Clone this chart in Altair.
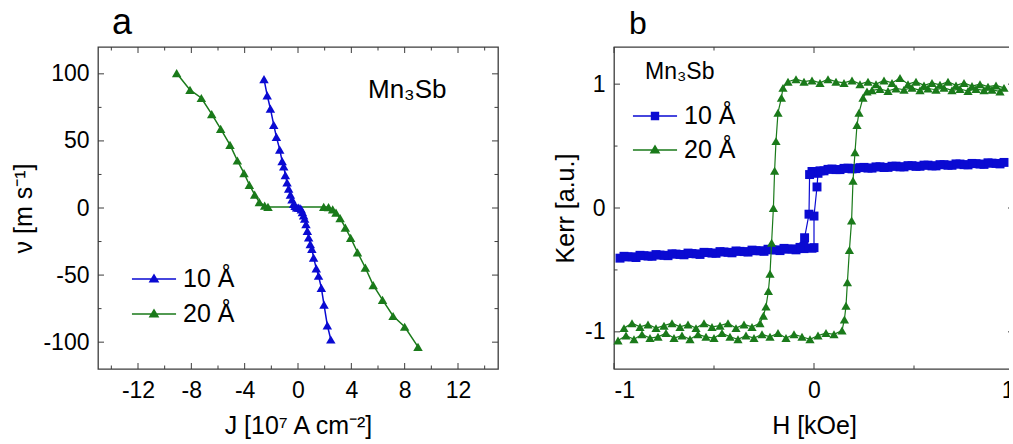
import altair as alt
import pandas as pd

FONT = "Liberation Sans"
BLUE = "#0A0AD2"
GREEN = "#1A7A1A"
FRAME = "#3c3c3c"

series_labels = ["10 Å", "20 Å"]
sample_label = "Mn₃Sb"
panel_labels = ["a", "b"]

# ---------------- panel a : velocity vs current density ----------------
J_10 = [-2.55, -2.31, -2.07, -1.82, -1.62, -1.37, -1.19, -1.07, -0.95, -0.82, -0.70, -0.57,
        -0.45, -0.33, -0.22, -0.10, 0.02, 0.15, 0.25, 0.33, 0.42, 0.50, 0.60, 0.70, 0.80,
        0.92, 1.04, 1.17, 1.37, 1.54, 1.75, 1.95, 2.20, 2.46]
v_10 = [96, 84, 74, 62, 53, 43.5, 35, 31, 24.5, 19, 14.5, 10, 6.5, 3, 1.5, 0.5, 0.2, 0,
        -1, -3, -5.5, -8, -12, -17, -22, -27, -30.5, -37, -45, -50.5, -59.5, -72, -87.5, -98]
J_20 = [-9.1, -8.1, -7.25, -6.47, -5.8, -5.1, -4.55, -4.05, -3.65, -3.25, -2.9, -2.5, -2.25,
        1.93, 2.29, 2.6, 2.85, 3.16, 3.55, 3.95, 4.46, 5.05, 5.64, 6.34, 7.13, 8.0, 9.0]
v_20 = [100.5, 88, 82, 70, 59, 47, 35.4, 26, 17.3, 10, 4.3, 1.8, 0.8,
        0.8, 0.7, -1, -3.5, -7.5, -14.6, -22.3, -33, -44.5, -57.5, -68.5, -80.5, -88.5, -103.5]
Ja_major = [-12, -8, -4, 0, 4, 8, 12]
Ja_minor = [-14, -10, -6, -2, 2, 6, 10, 14]
va_major = [-100, -50, 0, 50, 100]
va_minor = [-75, -25, 25, 75]

# ---------------- panel b : Kerr hysteresis loops ----------------
H10_up = [-0.97, -0.93, -0.89, -0.85, -0.81, -0.77, -0.73, -0.69, -0.65, -0.61, -0.57, -0.53,
          -0.49, -0.45, -0.41, -0.37, -0.33, -0.29, -0.25, -0.21, -0.17, -0.13, -0.09, -0.05,
          -0.01, 0.0, 0.0, 0.015, 0.02,
          0.05, 0.09, 0.13, 0.17, 0.21, 0.25, 0.29, 0.33, 0.37, 0.41, 0.45, 0.49, 0.53, 0.57,
          0.61, 0.65, 0.69, 0.73, 0.77, 0.81, 0.85, 0.89, 0.93]
K10_up = [-0.405, -0.395, -0.40, -0.385, -0.39, -0.38, -0.385, -0.372, -0.378, -0.368, -0.375,
          -0.36, -0.366, -0.355, -0.362, -0.35, -0.356, -0.345, -0.35, -0.338, -0.344, -0.333,
          -0.338, -0.328,
          -0.325, -0.32, -0.065, 0.17, 0.28,
          0.30, 0.315, 0.31, 0.322, 0.318, 0.328, 0.322, 0.333, 0.328, 0.338, 0.332, 0.342,
          0.337, 0.346, 0.34, 0.35, 0.345, 0.355, 0.348, 0.358, 0.352, 0.362, 0.356]
H10_down = [0.95, 0.91, 0.87, 0.83, 0.79, 0.75, 0.71, 0.67, 0.63, 0.59, 0.55, 0.51, 0.47, 0.43,
            0.39, 0.35, 0.31, 0.27, 0.23, 0.19, 0.15, 0.11, 0.07, 0.03,
            -0.01, -0.022, -0.025, -0.047, -0.05,
            -0.07, -0.11, -0.15, -0.19, -0.23, -0.27, -0.31, -0.35, -0.39, -0.43, -0.47, -0.51,
            -0.55, -0.59, -0.63, -0.67, -0.71, -0.75, -0.79, -0.83, -0.87, -0.91, -0.95]
K10_down = [0.368, 0.36, 0.365, 0.355, 0.36, 0.35, 0.356, 0.345, 0.35, 0.34, 0.346, 0.336,
            0.342, 0.332, 0.337, 0.327, 0.332, 0.322, 0.326, 0.316, 0.32, 0.31, 0.312, 0.30,
            0.295, 0.27, -0.05, -0.24, -0.31,
            -0.318, -0.33, -0.326, -0.338, -0.333, -0.345, -0.34, -0.352, -0.347, -0.358,
            -0.352, -0.364, -0.358, -0.37, -0.364, -0.375, -0.37, -0.382, -0.376, -0.388,
            -0.382, -0.394, -0.39]
H20_up = [-0.98, -0.94, -0.90, -0.86, -0.82, -0.78, -0.74, -0.70, -0.66, -0.62, -0.58, -0.54,
          -0.50, -0.46, -0.42, -0.38, -0.34, -0.30, -0.26, -0.22, -0.18, -0.14, -0.10, -0.06,
          -0.02, 0.02, 0.06, 0.10, 0.14,
          0.152, 0.16, 0.167, 0.177, 0.188, 0.195, 0.205, 0.215, 0.225, 0.245, 0.265,
          0.29, 0.33, 0.37, 0.41, 0.45, 0.49, 0.53, 0.57, 0.61, 0.65, 0.69, 0.73, 0.77, 0.81,
          0.85, 0.89, 0.93]
K20_up = [-1.07, -1.03, -1.06, -1.02, -1.05, -1.04, -1.01, -1.05, -1.03, -1.06, -1.02, -1.04,
          -1.05, -1.01, -1.04, -1.06, -1.03, -1.05, -1.02, -1.04, -1.01, -1.05, -1.02, -1.04,
          -1.06, -1.03, -1.01, -1.02, -0.99,
          -0.90, -0.79, -0.60, -0.34, -0.10, 0.22, 0.45, 0.67, 0.77, 0.89, 0.94,
          0.95, 0.96, 0.945, 0.965, 0.955, 0.97, 0.95, 0.965, 0.955, 0.97, 0.95, 0.96, 0.945,
          0.96, 0.95, 0.955, 0.94]
H20_down = [0.95, 0.91, 0.87, 0.83, 0.79, 0.75, 0.71, 0.67, 0.63, 0.59, 0.55, 0.51, 0.47, 0.43,
            0.39, 0.35, 0.31, 0.27, 0.23, 0.19, 0.15, 0.11, 0.07, 0.03, -0.01, -0.05, -0.09,
            -0.13,
            -0.155, -0.163, -0.18, -0.19, -0.197, -0.203, -0.212, -0.22, -0.228, -0.24, -0.253,
            -0.27, -0.31, -0.35, -0.39, -0.43, -0.47, -0.51, -0.55, -0.59, -0.63, -0.67, -0.71,
            -0.75, -0.79, -0.83, -0.87, -0.91, -0.95]
K20_down = [0.97, 0.99, 0.98, 1.0, 0.985, 1.01, 0.99, 1.02, 0.995, 1.01, 0.99, 1.02, 1.0, 1.05,
            1.01, 1.03, 1.0, 1.02, 1.0, 1.03, 1.01, 1.02, 1.04, 1.01, 1.03, 1.02, 1.04, 1.02,
            0.97, 0.89, 0.77, 0.54, 0.30, 0.0, -0.28, -0.53, -0.67, -0.795, -0.87,
            -0.93, -0.96, -0.94, -0.97, -0.93, -0.95, -0.96, -0.93, -0.97, -0.94, -0.96, -0.93,
            -0.95, -0.97, -0.94, -0.96, -0.93, -0.97]
Hb_major = [-1, 0, 1]
Hb_minor = [-0.5, 0.5]
Kb_major = [-1, 0, 1]
Kb_minor = [-0.5, 0.5]

PW, PH = 400, 322
LABEL_EXPR = "toString(datum.value)"

# legend glyphs: line segment + marker (custom symbol paths, unit = 15 px)
TRI_GLYPH = "M-1.47,0H1.47M-0.27,0.18L0,-0.27L0.27,0.18Z"
SQR_GLYPH = "M-1.47,0H1.47M-0.23,-0.23H0.23V0.23H-0.23Z"


def frame_ticks(xs, ys, xax, yax, xmaj, xmin, ymaj, ymin, big=6, small=3.5):
    layers = []
    for vals, L in ((xmaj, big), (xmin, small)):
        base = alt.Chart(pd.DataFrame({"t": vals})).mark_rule(color=FRAME, strokeWidth=1)
        xe = alt.X("t:Q", scale=xs, axis=xax)
        layers.append(base.encode(x=xe, y=alt.value(PH), y2=alt.value(PH - L)))
        layers.append(base.encode(x=xe, y=alt.value(0), y2=alt.value(L)))
    for vals, L in ((ymaj, big), (ymin, small)):
        base = alt.Chart(pd.DataFrame({"t": vals})).mark_rule(color=FRAME, strokeWidth=1)
        ye = alt.Y("t:Q", scale=ys, axis=yax)
        layers.append(base.encode(y=ye, x=alt.value(0), x2=alt.value(L)))
        layers.append(base.encode(y=ye, x=alt.value(PW), x2=alt.value(PW - L)))
    return layers


def curve(df, xf, yf, xs, ys, xax, yax, color, shape, size, lw):
    xe = alt.X(f"{xf}:Q", scale=xs, axis=xax)
    ye = alt.Y(f"{yf}:Q", scale=ys, axis=yax)
    line = alt.Chart(df).mark_line(color=color, strokeWidth=lw).encode(
        x=xe, y=ye, order=alt.Order("i:Q"))
    pts = alt.Chart(df).mark_point(shape=shape, filled=True, size=size, color=color,
                                   opacity=1).encode(x=xe, y=ye)
    return [line, pts]


def legend_layer(df, xf, yf, xs, ys, xax, yax, glyphs, lx, ly, rowpad):
    leg = alt.Legend(title=None, orient="none", legendX=lx, legendY=ly, labelFont=FONT,
                     labelFontSize=25, labelColor="black", labelOffset=13, symbolSize=900,
                     symbolStrokeWidth=1.5, symbolFillColor="black",
                     symbolStrokeColor="black", rowPadding=rowpad, padding=0, symbolOffset=0)
    cs = alt.Scale(domain=series_labels, range=[BLUE, GREEN])
    return alt.Chart(df).transform_filter("false").mark_point(filled=True, opacity=1).encode(
        x=alt.X(f"{xf}:Q", scale=xs, axis=xax),
        y=alt.Y(f"{yf}:Q", scale=ys, axis=yax),
        shape=alt.Shape("series:N", scale=alt.Scale(domain=series_labels, range=glyphs),
                        legend=leg),
        fill=alt.Fill("series:N", scale=cs, legend=leg),
        stroke=alt.Stroke("series:N", scale=cs, legend=leg),
    )


def label_text(txt, x, y, size):
    return alt.Chart(pd.DataFrame({"t": [txt]})).mark_text(
        align="left", baseline="alphabetic", font=FONT, fontSize=size, color="black"
    ).encode(x=alt.value(x), y=alt.value(y), text="t:N")


# ---- panel a ----
df_a10 = pd.DataFrame({"J": J_10, "v": v_10, "series": series_labels[0],
                       "i": list(range(len(J_10)))})
df_a20 = pd.DataFrame({"J": J_20, "v": v_20, "series": series_labels[1],
                       "i": list(range(len(J_20)))})
xs_a = alt.Scale(domain=[-15, 15], nice=False, zero=False)
ys_a = alt.Scale(domain=[-120, 120], nice=False, zero=False)
xax_a = alt.Axis(values=Ja_major, title="J [10⁷ A cm⁻²]", labelPadding=10, titlePadding=11,
                 labelExpr=LABEL_EXPR)
yax_a = alt.Axis(values=va_major, title="ν [m s⁻¹]", labelPadding=9, titlePadding=6,
                 labelExpr=LABEL_EXPR)

layers_a = curve(df_a20, "J", "v", xs_a, ys_a, xax_a, yax_a, GREEN, "triangle-up", 90, 1.5)
layers_a += curve(df_a10, "J", "v", xs_a, ys_a, xax_a, yax_a, BLUE, "triangle-up", 90, 1.5)
layers_a += frame_ticks(xs_a, ys_a, xax_a, yax_a, Ja_major, Ja_minor, va_major, va_minor)
layers_a.append(label_text(sample_label, 270, 51, 26))
layers_a.append(label_text(panel_labels[0], 14, -13, 36))
layers_a.append(legend_layer(df_a10, "J", "v", xs_a, ys_a, xax_a, yax_a,
                             [TRI_GLYPH, TRI_GLYPH], 40, 216, 6))
panel_a = alt.layer(*layers_a).properties(width=PW, height=PH)

# ---- panel b ----
df_b10 = pd.DataFrame({"H": H10_up + H10_down, "K": K10_up + K10_down,
                       "series": series_labels[0],
                       "i": list(range(len(H10_up) + len(H10_down)))})
df_b20 = pd.DataFrame({"H": H20_up + H20_down, "K": K20_up + K20_down,
                       "series": series_labels[1],
                       "i": list(range(len(H20_up) + len(H20_down)))})
xs_b = alt.Scale(domain=[-1, 1], nice=False, zero=False)
ys_b = alt.Scale(domain=[-1.3, 1.3], nice=False, zero=False)
xax_b = alt.Axis(values=Hb_major, title="H [kOe]", labelPadding=10, titlePadding=11,
                 labelExpr=LABEL_EXPR)
yax_b = alt.Axis(values=Kb_major, title="Kerr [a.u.]", labelPadding=9, titlePadding=6,
                 labelExpr=LABEL_EXPR)

layers_b = curve(df_b10, "H", "K", xs_b, ys_b, xax_b, yax_b, BLUE, "square", 80, 1.2)
layers_b += curve(df_b20, "H", "K", xs_b, ys_b, xax_b, yax_b, GREEN, "triangle-up", 85, 1.2)
layers_b += frame_ticks(xs_b, ys_b, xax_b, yax_b, Hb_major, Hb_minor, Kb_major, Kb_minor)
layers_b.append(label_text(sample_label, 31, 32, 23))
layers_b.append(label_text(panel_labels[1], 15, -13, 32))
layers_b.append(legend_layer(df_b10, "H", "K", xs_b, ys_b, xax_b, yax_b,
                             [SQR_GLYPH, TRI_GLYPH], 25, 53, 5))
panel_b = alt.layer(*layers_b).properties(width=PW, height=PH)

chart = (
    alt.hconcat(panel_a, panel_b, spacing=116, bounds="flush")
    .resolve_scale(shape="independent", fill="independent", stroke="independent")
    .resolve_legend(shape="independent", fill="independent", stroke="independent")
    .properties(padding={"left": 11, "top": 4, "right": -7, "bottom": 0},
                background="white")
    .configure_axis(domain=False, ticks=False, tickSize=0, grid=False, labelFont=FONT,
                    labelFontSize=23, labelColor="black", titleFont=FONT, titleFontSize=25,
                    titleFontWeight="normal", titleColor="black")
    .configure_view(stroke=FRAME, strokeWidth=1.3)
)

chart.save("out.html", embed_options={"renderer": "svg", "actions": False})
